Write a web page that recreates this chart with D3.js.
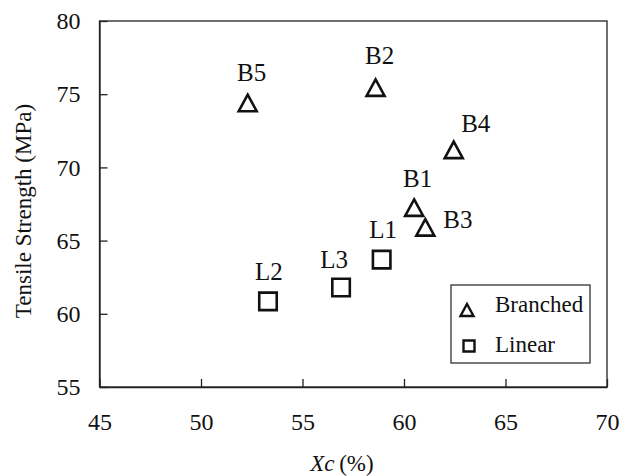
<!DOCTYPE html>
<html>
<head>
<meta charset="utf-8">
<script src="https://cdn.jsdelivr.net/npm/d3@7"></script>
<style>
  html, body { margin: 0; padding: 0; background: #fff; }
  svg text { font-family: "Liberation Serif", "Times New Roman", serif; fill: #111; }
</style>
</head>
<body>
<svg id="chart" width="620" height="476"></svg>
<script>
// ---- data ----
const branchedNames = ["B1", "B2", "B3", "B4", "B5"];
const branchedXc    = [60.5, 58.6, 61.05, 62.45, 52.3];
const branchedTS    = [67.25, 75.45, 65.9, 71.2, 74.4];

const linearNames = ["L1", "L2", "L3"];
const linearXc    = [58.9, 53.3, 56.9];
const linearTS    = [63.7, 60.85, 61.8];

const xTicks = [45, 50, 55, 60, 65, 70];
const yTicks = [55, 60, 65, 70, 75, 80];
const legendLabels = ["Branched", "Linear"];

// label placement (annotation layout, in px relative to marker)
const labelOffsets = {
  B1: [3.5, -21], B2: [4, -23.5], B3: [18, 1, "start"], B4: [22, -18],
  B5: [4, -22], L1: [1.5, -22], L2: [1, -21.5], L3: [-7, -19]
};

// ---- layout ----
const svg = d3.select("#chart");
const mLeft = 99.5, mRight = 607, mTop = 21, mBottom = 387;

const x = d3.scaleLinear().domain([45, 70]).range([mLeft, mRight]);
const y = d3.scaleLinear().domain([55, 80]).range([mBottom, mTop]);

// frame
svg.append("rect")
  .attr("x", mLeft).attr("y", mTop)
  .attr("width", mRight - mLeft).attr("height", mBottom - mTop)
  .attr("fill", "none").attr("stroke", "#222").attr("stroke-width", 1.3);

// axes
const xAxis = svg.append("g")
  .attr("transform", `translate(0,${mBottom})`)
  .call(d3.axisBottom(x).tickValues(xTicks).tickSizeInner(-8).tickSizeOuter(0).tickPadding(26));
const yAxis = svg.append("g")
  .attr("transform", `translate(${mLeft},0)`)
  .call(d3.axisLeft(y).tickValues(yTicks).tickSizeInner(-8).tickSizeOuter(0).tickPadding(19));

[xAxis, yAxis].forEach(g => {
  g.select(".domain").attr("stroke", "#222").attr("stroke-width", 1.3);
  g.selectAll(".tick line").attr("stroke", "#222").attr("stroke-width", 1.3);
  g.selectAll(".tick text")
    .attr("fill", "#111")
    .style("font-family", '"Liberation Serif", "Times New Roman", serif')
    .style("font-size", "24px");
});

// axis titles
svg.append("text")
  .attr("transform", `translate(31,211) rotate(-90)`)
  .attr("text-anchor", "middle")
  .style("font-size", "23px")
  .text("Tensile Strength (MPa)");

const xt = svg.append("text")
  .attr("x", 342).attr("y", 471)
  .attr("text-anchor", "middle")
  .style("font-size", "23px");
xt.append("tspan").style("font-style", "italic").text("Xc");
xt.append("tspan").text("\u2009(%)");

// marker symbols
function triPath(cx, cy, w, h) {
  return `M${cx},${cy - h / 2}L${cx + w / 2},${cy + h / 2}L${cx - w / 2},${cy + h / 2}Z`;
}
function sqPath(cx, cy, s) {
  return `M${cx - s / 2},${cy - s / 2}h${s}v${s}h${-s}Z`;
}

const branched = branchedNames.map((n, i) => ({ name: n, xc: branchedXc[i], ts: branchedTS[i] }));
const linear = linearNames.map((n, i) => ({ name: n, xc: linearXc[i], ts: linearTS[i] }));

svg.append("g").selectAll("path").data(branched).join("path")
  .attr("d", d => triPath(x(d.xc), y(d.ts), 18, 16.5))
  .attr("fill", "none").attr("stroke", "#111").attr("stroke-width", 2.6)
  .attr("stroke-linejoin", "miter");

svg.append("g").selectAll("path").data(linear).join("path")
  .attr("d", d => sqPath(x(d.xc), y(d.ts), 17.5))
  .attr("fill", "none").attr("stroke", "#111").attr("stroke-width", 2.6);

// point labels
svg.append("g").selectAll("text").data(branched.concat(linear)).join("text")
  .attr("x", d => x(d.xc) + labelOffsets[d.name][0])
  .attr("y", d => y(d.ts) + labelOffsets[d.name][1])
  .attr("text-anchor", d => labelOffsets[d.name][2] || "middle")
  .style("font-size", "25px")
  .text(d => d.name);

// legend
const lg = svg.append("g");
lg.append("rect")
  .attr("x", 451).attr("y", 285).attr("width", 139).attr("height", 78)
  .attr("fill", "#fff").attr("stroke", "#222").attr("stroke-width", 1.2);
lg.append("path").attr("d", triPath(467, 310, 13, 12))
  .attr("fill", "none").attr("stroke", "#111").attr("stroke-width", 2.4);
lg.append("path").attr("d", sqPath(469, 346, 11))
  .attr("fill", "none").attr("stroke", "#111").attr("stroke-width", 2.4);
lg.selectAll("text.leg").data(legendLabels).join("text")
  .attr("class", "leg")
  .attr("x", 495)
  .attr("y", (d, i) => 312 + i * 40)
  .style("font-size", "23px")
  .text(d => d);
</script>
</body>
</html>
